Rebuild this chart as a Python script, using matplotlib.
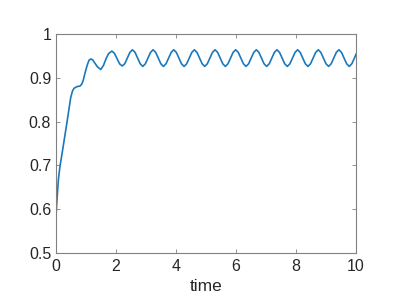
import numpy as np
import matplotlib
matplotlib.use("Agg")
import matplotlib.pyplot as plt

# transient part
t_start = [0.0, 0.04, 0.08, 0.13, 0.22, 0.30, 0.36, 0.43, 0.49, 0.55, 0.60, 0.70,
           0.80, 0.86, 0.91, 0.97, 1.04, 1.10, 1.16, 1.22, 1.30, 1.38, 1.49, 1.58,
           1.67, 1.75]
v_start = [0.585, 0.630, 0.668, 0.697, 0.735, 0.770, 0.796, 0.828, 0.855, 0.870,
           0.876, 0.880, 0.881, 0.886, 0.895, 0.912, 0.929, 0.940, 0.943, 0.941,
           0.933, 0.925, 0.919, 0.928, 0.944, 0.955]

# steady oscillation, sampled every 0.086 from the first big peak (t = 1.86)
t_osc = [1.860, 1.946, 2.032, 2.118, 2.204, 2.290, 2.376, 2.462,
         2.548, 2.634, 2.720, 2.806, 2.892, 2.978, 3.064, 3.150,
         3.236, 3.322, 3.408, 3.494, 3.580, 3.666, 3.752, 3.838,
         3.924, 4.010, 4.096, 4.182, 4.268, 4.354, 4.440, 4.526,
         4.612, 4.698, 4.784, 4.870, 4.956, 5.042, 5.128, 5.214,
         5.300, 5.386, 5.472, 5.558, 5.644, 5.730, 5.816, 5.902,
         5.988, 6.074, 6.160, 6.246, 6.332, 6.418, 6.504, 6.590,
         6.676, 6.762, 6.848, 6.934, 7.020, 7.106, 7.192, 7.278,
         7.364, 7.450, 7.536, 7.622, 7.708, 7.794, 7.880, 7.966,
         8.052, 8.138, 8.224, 8.310, 8.396, 8.482, 8.568, 8.654,
         8.740, 8.826, 8.912, 8.998, 9.084, 9.170, 9.256, 9.342,
         9.428, 9.514, 9.600, 9.686, 9.772, 9.858, 9.944, 10.0]
v_osc = [0.961, 0.956, 0.944, 0.932, 0.927, 0.932, 0.945, 0.958,
         0.964, 0.958, 0.945, 0.932, 0.926, 0.932, 0.945, 0.958,
         0.964, 0.958, 0.945, 0.932, 0.926, 0.932, 0.945, 0.958,
         0.964, 0.958, 0.945, 0.932, 0.926, 0.932, 0.945, 0.958,
         0.964, 0.958, 0.945, 0.932, 0.926, 0.932, 0.945, 0.958,
         0.964, 0.958, 0.945, 0.932, 0.926, 0.932, 0.945, 0.958,
         0.964, 0.958, 0.945, 0.932, 0.926, 0.932, 0.945, 0.958,
         0.964, 0.958, 0.945, 0.932, 0.926, 0.932, 0.945, 0.958,
         0.964, 0.958, 0.945, 0.932, 0.926, 0.932, 0.945, 0.958,
         0.964, 0.958, 0.945, 0.932, 0.926, 0.932, 0.945, 0.958,
         0.964, 0.958, 0.945, 0.932, 0.926, 0.932, 0.945, 0.958,
         0.964, 0.958, 0.945, 0.932, 0.926, 0.932, 0.945, 0.954]

x_ticks = [0, 2, 4, 6, 8, 10]
y_ticks = [0.5, 0.6, 0.7, 0.8, 0.9, 1.0]
y_labels = ["0.5", "0.6", "0.7", "0.8", "0.9", "1"]

plt.rcParams['font.family'] = ['Liberation Sans', 'DejaVu Sans']

fig = plt.figure(figsize=(3.99, 3.08), dpi=100)
ax = fig.add_axes([0.1404, 0.1786, 0.752, 0.711])

ax.plot(t_start + t_osc, v_start + v_osc, color="#1a78bd", lw=1.2)

ax.set_xlim(0, 10)
ax.set_ylim(0.5, 1.0)
ax.set_xticks(x_ticks)
ax.set_yticks(y_ticks)
ax.set_yticklabels(y_labels)
ax.set_xlabel("time", fontsize=12.5, color="#262626", labelpad=3.5)

for s in ax.spines.values():
    s.set_color("#808080")
    s.set_linewidth(0.8)
ax.tick_params(direction="in", top=True, right=True, length=3, width=0.6,
               color="#808080", labelsize=11.5, labelcolor="#262626")
ax.tick_params(axis="x", pad=4.5)
ax.tick_params(axis="y", pad=3.5)

fig.savefig("out.png", dpi=100)
